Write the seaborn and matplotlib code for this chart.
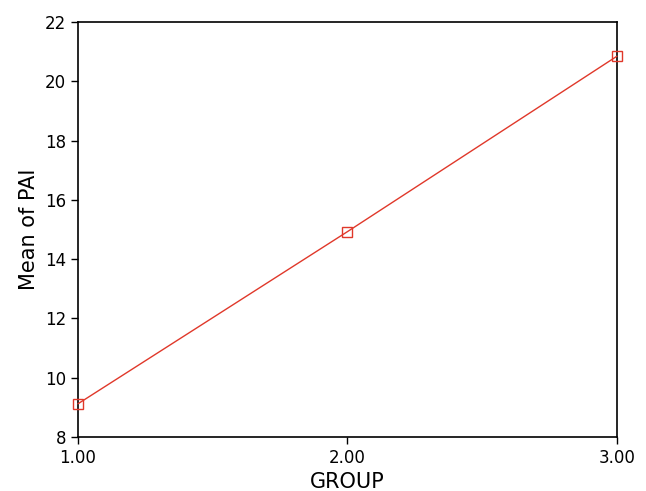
import pandas as pd
import seaborn as sns
import matplotlib.pyplot as plt

# Group means
groups = [1.0, 2.0, 3.0]
pai_means = [9.12, 14.93, 20.85]
x_ticks = [1.0, 2.0, 3.0]
x_tick_labels = ['1.00', '2.00', '3.00']
y_ticks = [8, 10, 12, 14, 16, 18, 20, 22]

df = pd.DataFrame({'GROUP': groups, 'PAI': pai_means})

sns.set_style('white')
plt.rcParams['font.family'] = ['DejaVu Sans']

fig = plt.figure(figsize=(6.46, 4.91), dpi=100)
ax = fig.add_axes([0.1207, 0.11, 0.8344, 0.845])

sns.lineplot(data=df, x='GROUP', y='PAI', ax=ax, color='#e0382a', linewidth=1.0,
             marker='s', markersize=7, markerfacecolor='none',
             markeredgecolor='#e0382a', markeredgewidth=1.0)
for line in ax.lines:
    line.set_clip_on(False)
    line.set_zorder(5)

ax.set_xlim(1, 3)
ax.set_ylim(8, 22)
ax.set_xticks(x_ticks)
ax.set_xticklabels(x_tick_labels)
ax.set_yticks(y_ticks)
ax.tick_params(axis='both', direction='out', length=5, width=1, labelsize=12,
               colors='black', bottom=True, left=True)
for side in ['left', 'right', 'top', 'bottom']:
    ax.spines[side].set_color('black')
    ax.spines[side].set_linewidth(1.2)

ax.set_xlabel('GROUP', fontsize=15, color='black')
ax.set_ylabel('Mean of PAI', fontsize=15, color='black')

fig.savefig('out.png', dpi=100)
